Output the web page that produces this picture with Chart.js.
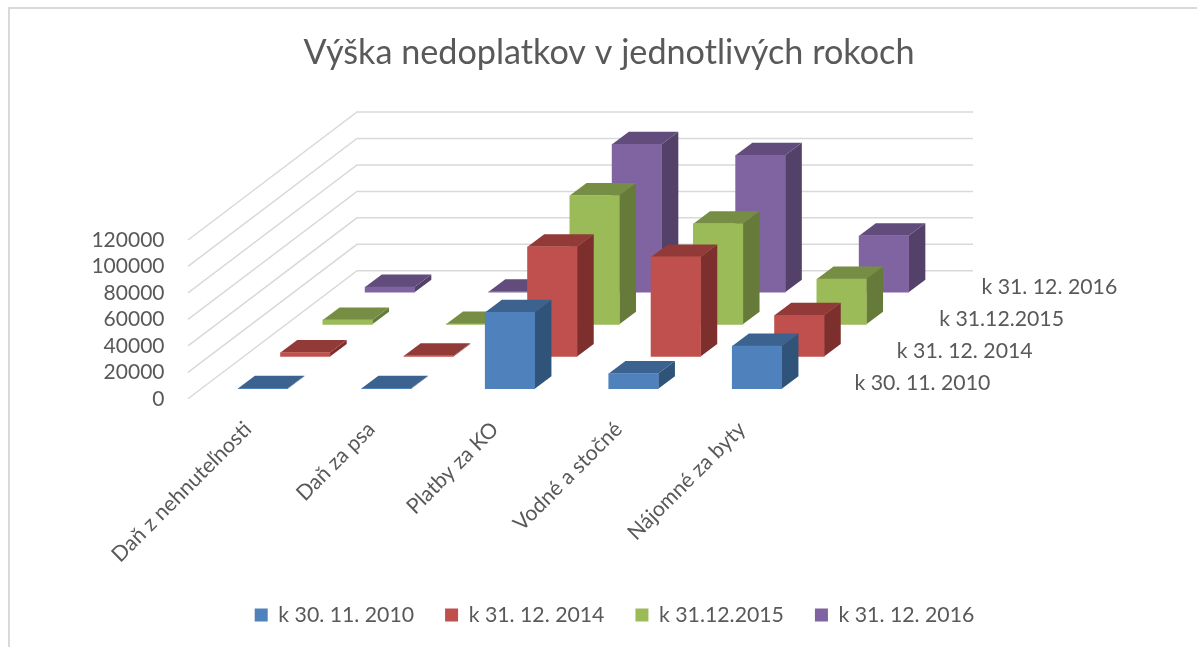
<!DOCTYPE html>
<html>
<head>
<meta charset="utf-8">
<title>Výška nedoplatkov</title>
<script src="https://cdn.jsdelivr.net/npm/chart.js@4"></script>
<style>
  html, body { margin: 0; padding: 0; background: #fff; overflow: hidden; }
  #frame { position: absolute; left: 8px; top: 7px; right: 0; bottom: 0; border-left: 2px solid #d9d9d9; border-top: 2px solid #d9d9d9; }
  canvas { position: absolute; left: 0; top: 0; }
</style>
</head>
<body>
<div id="frame"></div>
<canvas id="chart" width="1197" height="647"></canvas>
<script>
const categories = ["Daň z nehnuteľnosti", "Daň za psa", "Platby za KO", "Vodné a stočné", "Nájomné za byty"];
const seriesNames = ["k 30. 11. 2010", "k 31. 12. 2014", "k 31.12.2015", "k 31. 12. 2016"];

const values2010 = [300, 300, 57800, 11400, 32300];
const values2014 = [3000, 500, 82900, 75300, 31200];
const values2015 = [3300, 300, 97300, 76000, 34200];
const values2016 = [3800, 300, 111800, 103400, 42600];
const allValues = [values2010, values2014, values2015, values2016];

const yTicksMax = 120000;

const frontColors = ["#4f81bd", "#c0504d", "#9bbb59", "#8064a2"];
const topColors = ["#3c6290", "#923a38", "#768e44", "#614c7b"];
const sideColors = ["#2f5379", "#7c2f2d", "#667a3a", "#53416a"];

const textColor = "#595959";
const fontFamily = "Lato, 'Noto Sans', sans-serif";

// fake depth: each series sits further back along the floor, in axis units
const depthX = 0.3425;
const depthY = 24335;
const floorY = 7600;
// extrusion of one bar and of the whole floor, in px
const barDepthX = 16.7;
const barDepthY = 12.5;
const wallDepthX = 169;
const wallDepthY = 128;

function buildData(values, k) {
  return values.map((v, i) => {
    const base = floorY + k * depthY;
    return { x: i + k * depthX, y: [base, base + v] };
  });
}

function poly(ctx, pts, color) {
  ctx.fillStyle = color;
  ctx.beginPath();
  pts.forEach((p, i) => i ? ctx.lineTo(p[0], p[1]) : ctx.moveTo(p[0], p[1]));
  ctx.closePath();
  ctx.fill();
}

// grid on the two walls, top and side faces of the bars, depth axis labels
const depthPlugin = {
  id: "depth",
  afterLayout(chart) {
    // the right padding pulls title and legend left, push them back
    chart.titleBlock.left += 122.5;
    chart.titleBlock.right += 122.5;
    chart.legend.left += 128;
    chart.legend.right += 128;
    chart.legend.top -= 11.5;
    chart.legend.bottom -= 11.5;
  },
  beforeDatasetsDraw(chart) {
    const ctx = chart.ctx;
    const area = chart.chartArea;
    ctx.save();
    ctx.strokeStyle = "#d9d9d9";
    ctx.lineWidth = 1.5;
    chart.scales.y.ticks.forEach(t => {
      const py = chart.scales.y.getPixelForValue(t.value);
      ctx.beginPath();
      ctx.moveTo(area.left, py);
      ctx.lineTo(area.left + wallDepthX, py - wallDepthY);
      ctx.lineTo(area.right, py - wallDepthY);
      ctx.stroke();
    });
    ctx.restore();
  },
  beforeDatasetDraw(chart, args) {
    const ctx = chart.ctx;
    const k = args.index;
    args.meta.data.forEach(bar => {
      const l = bar.x - bar.width / 2;
      const r = bar.x + bar.width / 2;
      poly(ctx, [[r, bar.y], [r + barDepthX, bar.y - barDepthY], [r + barDepthX, bar.base - barDepthY], [r, bar.base]], sideColors[k]);
      poly(ctx, [[l, bar.y], [l + barDepthX, bar.y - barDepthY], [r + barDepthX, bar.y - barDepthY], [r, bar.y]], topColors[k]);
    });
  },
  afterDatasetsDraw(chart) {
    const ctx = chart.ctx;
    ctx.save();
    ctx.font = "21.25px " + fontFamily;
    ctx.fillStyle = textColor;
    ctx.textBaseline = "middle";
    seriesNames.forEach((name, k) => {
      const px = chart.scales.x.getPixelForValue(4.79 + k * depthX);
      const py = chart.scales.y.getPixelForValue(12000 + k * 24000);
      ctx.fillText(name, px, py);
    });
    ctx.restore();
  }
};

new Chart(document.getElementById("chart"), {
  type: "bar",
  data: {
    datasets: allValues.map((values, k) => ({
      label: seriesNames[k],
      data: buildData(values, k),
      backgroundColor: frontColors[k],
      borderWidth: 0,
      barThickness: 49.5,
      grouped: false,
      clip: false
    }))
  },
  plugins: [depthPlugin],
  options: {
    responsive: false,
    animation: false,
    layout: { padding: { left: 0, right: 224, top: 0, bottom: 0 } },
    plugins: {
      tooltip: { enabled: false },
      title: {
        display: true,
        text: "Výška nedoplatkov v jednotlivých rokoch",
        color: textColor,
        font: { family: fontFamily, size: 34.2, weight: "normal", lineHeight: 1.2 },
        padding: { top: 32.6, bottom: 34.1 }
      },
      legend: {
        position: "bottom",
        labels: {
          color: textColor,
          font: { family: fontFamily, size: 21.25 },
          boxWidth: 13,
          boxHeight: 13,
          padding: 31
        }
      }
    },
    scales: {
      x: {
        type: "linear",
        offset: false,
        min: -0.607,
        max: 5.749,
        grid: { display: false },
        border: { display: false },
        afterBuildTicks(scale) {
          scale.ticks = categories.map((c, i) => ({ value: i }));
        },
        afterFit(scale) {
          scale.height = 186;
        },
        ticks: {
          color: textColor,
          font: { family: fontFamily, size: 21.25 },
          minRotation: 45,
          maxRotation: 45,
          autoSkip: false,
          padding: 10,
          labelOffset: -15,
          callback: v => categories[v]
        }
      },
      y: {
        min: 0,
        max: 220000,
        grid: { display: false },
        border: { display: false },
        afterBuildTicks(scale) {
          scale.ticks = scale.ticks.filter(t => t.value <= yTicksMax);
        },
        afterFit(scale) {
          scale.width = 188;
        },
        ticks: {
          stepSize: 20000,
          color: textColor,
          font: { family: fontFamily, size: 21 },
          padding: 15.5,
          callback: v => String(v)
        }
      }
    }
  }
});
</script>
</body>
</html>
